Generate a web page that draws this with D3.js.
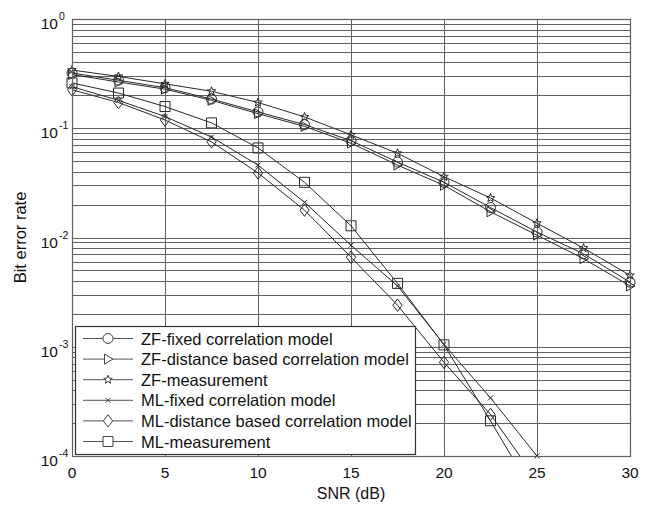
<!DOCTYPE html>
<html>
<head>
<meta charset="utf-8">
<script src="https://cdn.jsdelivr.net/npm/d3@7"></script>
<style>
  body { margin: 0; background: #fff; }
  svg { display: block; font-family: "Liberation Sans", Arial, sans-serif; }
</style>
</head>
<body>
<svg width="651" height="506"></svg>
<script>
// data
const snr = [0, 2.5, 5, 7.5, 10, 12.5, 15, 17.5, 20, 22.5, 25, 27.5, 30];
const zfFixed = [0.32, 0.275, 0.235, 0.185, 0.141, 0.108, 0.077, 0.049, 0.032, 0.0188, 0.0112, 0.0071, 0.0039];
const zfDistance = [0.31, 0.265, 0.228, 0.18, 0.136, 0.104, 0.073, 0.046, 0.030, 0.0172, 0.0105, 0.0064, 0.0036];
const zfMeasurement = [0.341, 0.298, 0.255, 0.218, 0.172, 0.127, 0.087, 0.059, 0.036, 0.023, 0.0135, 0.008, 0.0045];
const mlFixed = [0.24, 0.18, 0.128, 0.083, 0.046, 0.021, 0.0085, 0.0036, 0.00105, 0.00034, 0.0001];
const mlDistance = [0.225, 0.172, 0.119, 0.075, 0.039, 0.0178, 0.0066, 0.0024, 0.00072, 0.00024, 0.00006];
const mlMeasurement = [0.26, 0.21, 0.158, 0.112, 0.066, 0.032, 0.0128, 0.0038, 0.00104, 0.00021, 0.00004];

const seriesNames = [
  "ZF-fixed correlation model",
  "ZF-distance based correlation model",
  "ZF-measurement",
  "ML-fixed correlation model",
  "ML-distance based correlation model",
  "ML-measurement"
];
const seriesValues = [zfFixed, zfDistance, zfMeasurement, mlFixed, mlDistance, mlMeasurement];
const seriesMarkers = ["circle", "triangleRight", "star", "cross", "diamond", "square"];

const xTicks = [0, 5, 10, 15, 20, 25, 30];
const yDecades = [1, 0.1, 0.01, 0.001, 0.0001];

const svg = d3.select("svg");
const plotLeft = 72, plotRight = 630, plotTop = 19, plotBottom = 456;
const gridColor = "#606060";
const inkColor = "#2a2a2a";

const x = d3.scaleLinear().domain([0, 30]).range([plotLeft, plotRight]);
const y = d3.scaleLog().domain([1e-4, 1]).range([plotBottom, plotTop]);

svg.append("defs").append("clipPath").attr("id", "plot")
  .append("rect").attr("x", plotLeft).attr("y", plotTop)
  .attr("width", plotRight - plotLeft).attr("height", plotBottom - plotTop);

// grid
const grid = svg.append("g").attr("stroke", gridColor).attr("stroke-width", 1);
grid.selectAll("line.h")
  .data(y.ticks())
  .join("line").attr("class", "h")
  .attr("x1", plotLeft).attr("x2", plotRight)
  .attr("y1", d => Math.round(y(d)) + 0.5).attr("y2", d => Math.round(y(d)) + 0.5);
grid.selectAll("line.v")
  .data(xTicks)
  .join("line").attr("class", "v")
  .attr("x1", d => Math.round(x(d)) + 0.5).attr("x2", d => Math.round(x(d)) + 0.5)
  .attr("y1", plotTop).attr("y2", plotBottom);

// marker shapes (matlab style)
function markerPath(type, s) {
  const p = d3.path();
  if (type === "circle") {
    p.arc(0, 0, s * 0.5, 0, 2 * Math.PI);
  } else if (type === "square") {
    p.rect(-s / 2, -s / 2, s, s);
  } else if (type === "diamond") {
    const h = s * 0.62;
    p.moveTo(0, -h); p.lineTo(h * 0.75, 0); p.lineTo(0, h); p.lineTo(-h * 0.75, 0); p.closePath();
  } else if (type === "triangleRight") {
    const h = s * 0.5;
    p.moveTo(h, 0); p.lineTo(-h * 0.7, -h); p.lineTo(-h * 0.7, h); p.closePath();
  } else if (type === "star") {
    const ro = s * 0.45, ri = ro * 0.42;
    for (let i = 0; i < 10; i++) {
      const r = i % 2 ? ri : ro;
      const a = -Math.PI / 2 + i * Math.PI / 5;
      if (i === 0) p.moveTo(r * Math.cos(a), r * Math.sin(a));
      else p.lineTo(r * Math.cos(a), r * Math.sin(a));
    }
    p.closePath();
  } else if (type === "cross") {
    const h = s * 0.25;
    p.moveTo(-h, -h); p.lineTo(h, h); p.moveTo(-h, h); p.lineTo(h, -h);
  }
  return p.toString();
}

const line = d3.line().x(d => x(d[0])).y(d => y(d[1]));
const curves = svg.append("g").attr("clip-path", "url(#plot)");
const markers = svg.append("g");

seriesValues.forEach((vals, i) => {
  const pts = vals.map((v, j) => [snr[j], v]);
  curves.append("path")
    .attr("d", line(pts))
    .attr("fill", "none")
    .attr("stroke", inkColor)
    .attr("stroke-width", 1);
  markers.selectAll(null)
    .data(pts.filter(d => d[1] >= 1e-4))
    .join("path")
    .attr("transform", d => `translate(${x(d[0])},${y(d[1])})`)
    .attr("d", markerPath(seriesMarkers[i], 10))
    .attr("fill", "none")
    .attr("stroke", inkColor)
    .attr("stroke-width", 1);
});

// inward minor/major ticks on the left axis
svg.append("g").attr("stroke", gridColor)
  .selectAll("line")
  .data(y.ticks())
  .join("line")
  .attr("x1", plotLeft).attr("x2", plotLeft + 4)
  .attr("y1", d => Math.round(y(d)) + 0.5).attr("y2", d => Math.round(y(d)) + 0.5);

// frame
svg.append("rect")
  .attr("x", plotLeft + 0.5).attr("y", plotTop + 0.5)
  .attr("width", plotRight - plotLeft).attr("height", plotBottom - plotTop)
  .attr("fill", "none").attr("stroke", gridColor).attr("stroke-width", 1.2);

// y tick labels 10^k
const yLab = svg.append("g").attr("fill", "#111");
yDecades.forEach(d => {
  yLab.append("text")
    .attr("x", 58).attr("y", y(d) + 10)
    .attr("text-anchor", "end")
    .attr("font-size", 15.5)
    .text("10");
  yLab.append("text")
    .attr("x", 59).attr("y", y(d) + 1)
    .attr("font-size", 10.5)
    .text(Math.round(Math.log10(d)));
});

// x tick labels
svg.append("g").selectAll("text")
  .data(xTicks)
  .join("text")
  .attr("x", d => x(d)).attr("y", 478)
  .attr("text-anchor", "middle")
  .attr("font-size", 15.5)
  .attr("fill", "#111")
  .text(d => d);

// axis titles
svg.append("text")
  .attr("x", x(15)).attr("y", 499)
  .attr("text-anchor", "middle")
  .attr("font-size", 16)
  .attr("fill", "#111")
  .text("SNR (dB)");
svg.append("text")
  .attr("transform", `translate(26,${(plotTop + plotBottom) / 2}) rotate(-90)`)
  .attr("text-anchor", "middle")
  .attr("font-size", 16.5)
  .attr("fill", "#111")
  .text("Bit error rate");

// legend
const lg = svg.append("g");
lg.append("rect")
  .attr("x", 75.5).attr("y", 326.5)
  .attr("width", 340).attr("height", 128)
  .attr("fill", "#fff").attr("stroke", "#333").attr("stroke-width", 1.2);
seriesNames.forEach((name, i) => {
  const ly = 338.5 + i * 20.6;
  lg.append("line")
    .attr("x1", 83).attr("x2", 133).attr("y1", ly).attr("y2", ly)
    .attr("stroke", "#555");
  lg.append("path")
    .attr("transform", `translate(108,${ly})`)
    .attr("d", markerPath(seriesMarkers[i], 10))
    .attr("fill", "#fff").attr("stroke", "#444");
  lg.append("text")
    .attr("x", 141).attr("y", ly + 6)
    .attr("font-size", 16.5)
    .attr("fill", "#111")
    .text(name);
});
</script>
</body>
</html>
